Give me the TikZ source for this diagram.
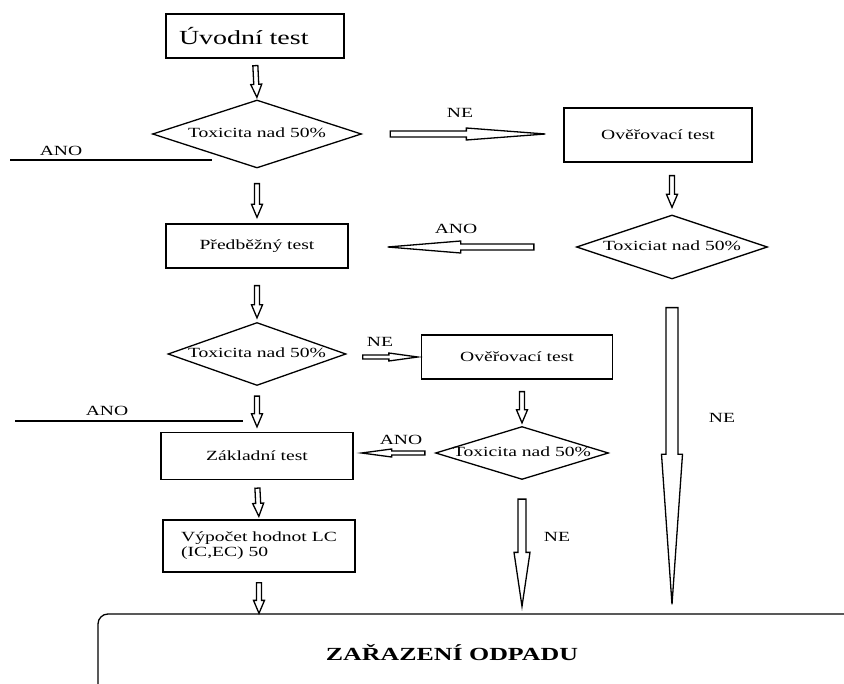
\documentclass[tikz,border=0pt]{standalone}
\usepackage{fontspec}
\setmainfont{Liberation Serif}[FakeStretch=1.4]
\usetikzlibrary{shapes.geometric, calc}

\begin{document}
\begin{tikzpicture}[
    x=1pt, y=-1pt, line width=1.3pt,
    box/.style={rectangle, draw, align=center, inner sep=0pt,
                font=\fontsize{14}{15}\selectfont},
    decision/.style={diamond, draw, inner sep=0pt,
                     text height=1.4ex, text depth=0pt,
                     font=\fontsize{14}{15}\selectfont},
    lbl/.style={inner sep=0pt, font=\fontsize{14}{15}\selectfont},
    % hollow block arrow: shaft half width / head half width / head length / gap at start / gap at end
    barrow/.style args={#1/#2/#3/#4/#5}{
        to path={
          let \p1=($(\tikztostart)!#4!(\tikztotarget)$),
              \p2=($(\tikztotarget)!#5!(\tikztostart)$)
          in ($(\p1)!#1!90:(\p2)$)
          -- ($(\p2)!#3!(\p1)!#1!90:(\p2)$)
          -- ($(\p2)!#3!(\p1)!#2!90:(\p2)$)
          -- (\p2)
          -- ($(\p2)!#3!(\p1)!#2!-90:(\p2)$)
          -- ($(\p2)!#3!(\p1)!#1!-90:(\p2)$)
          -- ($(\p1)!#1!-90:(\p2)$)
          -- cycle}},
    sarrow/.style 2 args={barrow=2.5pt/5.5pt/13pt/#1/#2},
]
\useasboundingbox (0,0) rectangle (844,684);
\clip (0,0) rectangle (844,684);

% --- Left column ---
\node[box, minimum width=178pt, minimum height=44pt, text width=152pt, align=left,
      font=\fontsize{20}{22}\selectfont] (uvod) at (255,36) {Úvodní test};
\node[decision, aspect=3.07, minimum width=209pt, minimum height=68pt] (tox1) at (257,134) {Toxicita nad 50\%};
\node[box, minimum width=182pt, minimum height=44pt] (pred) at (257,246) {Předběžný test};
\node[decision, aspect=2.83, minimum width=178pt, minimum height=63pt] (tox3) at (257,354) {Toxicita nad 50\%};
\node[box, minimum width=192pt, minimum height=47pt] (zakl) at (257,456) {Základní test};
\node[box, minimum width=192pt, minimum height=52pt, align=left] (vyp) at (259,546) {Výpočet hodnot LC\\(IC,EC) 50};

% --- Right column ---
\node[box, minimum width=188pt, minimum height=54pt] (over1) at (658,135) {Ověřovací test};
\node[decision, aspect=2.98, minimum width=191pt, minimum height=64pt] (tox2) at (672,247) {Toxiciat nad 50\%};

% --- Middle column ---
\node[box, minimum width=191pt, minimum height=44pt] (over2) at (517,357) {Ověřovací test};
\node[decision, aspect=3.26, minimum width=173pt, minimum height=53pt] (tox4) at (522,453) {Toxicita nad 50\%};

% --- Result ---
\node[rectangle, draw, rounded corners=10pt,
      minimum width=852pt, minimum height=106pt] (zarazeni) at (524,667) {};
\node[lbl, font=\bfseries\fontsize{18.5}{20}\selectfont] (zartext) at (452,653) {ZAŘAZENÍ ODPADU};

% --- Arrows down ---
\draw (uvod.south) to[sarrow={7pt}{2pt}] (tox1.north);
\draw (tox1.south) to[sarrow={15pt}{6pt}] (pred.north);
\draw (pred.south) to[sarrow={17pt}{4pt}] (tox3.north);
\draw (tox3.south) to[sarrow={10pt}{5pt}] (zakl.north);
\draw (zakl.south) to[sarrow={8pt}{3pt}] (vyp.north);
\draw (vyp.south) to[sarrow={10pt}{0pt}] (vyp.south |- zarazeni.north);
\draw (over1.south -| tox2.north) to[sarrow={13pt}{7pt}] (tox2.north);
\draw (over2.south -| tox4.north) to[sarrow={12pt}{3pt}] (tox4.north);
\draw (tox2.south) to[barrow=6pt/10.5pt/150pt/28pt/9pt] (tox2.south |- zarazeni.north);
\draw (tox4.south) to[barrow=4pt/8pt/54pt/19pt/7pt] (tox4.south |- zarazeni.north);

% --- Arrows across ---
\draw (tox1.east) to[barrow=3pt/6pt/79pt/28pt/18pt] (over1.west |- tox1.east);
\draw (tox2.west) to[barrow=3pt/6pt/73pt/42pt/39pt] (pred.east |- tox2.west);
\draw (over2.west -| tox3.east) to[barrow=2pt/4pt/29pt/16pt/3pt] (over2.west);
\draw (tox4.west) to[barrow=2pt/4pt/30pt/10pt/8pt] (zakl.east |- tox4.west);

% --- ANO lines ---
\coordinate (ano1a) at (10,160);
\coordinate (ano1b) at (212,160);
\coordinate (ano3a) at (15,421);
\coordinate (ano3b) at (243,421);
\draw (ano1a) -- (ano1b);
\draw (ano3a) -- (ano3b);

% --- Labels ---
\node[lbl] (ne1) at (460,113) {NE};
\node[lbl] (ano2) at (456,229) {ANO};
\node[lbl] (ne3) at (380,342) {NE};
\node[lbl] (ano4) at (401,440) {ANO};
\node[lbl] (ano1) at (61,151) {ANO};
\node[lbl] (ano3) at (107,411) {ANO};
\node[lbl] (ne2) at (722,418) {NE};
\node[lbl] (ne4) at (557,537) {NE};
\end{tikzpicture}
\end{document}
